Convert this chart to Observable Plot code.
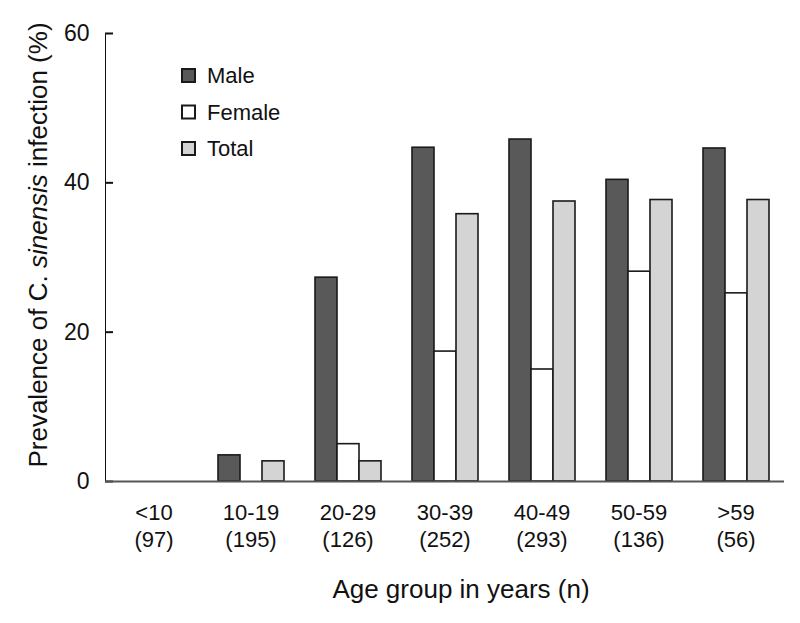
<!DOCTYPE html>
<html>
<head>
<meta charset="utf-8">
<script src="https://cdn.jsdelivr.net/npm/d3@7"></script>
<script src="https://cdn.jsdelivr.net/npm/@observablehq/plot@0.6"></script>
<style>
  body { margin: 0; background: #fff; }
  #chart { position: relative; width: 800px; height: 623px; }
</style>
</head>
<body>
<div id="chart"></div>
<script>
const ages = ["<10", "10-19", "20-29", "30-39", "40-49", "50-59", ">59"];
const sampleSizes = [97, 195, 126, 252, 293, 136, 56];
const series = ["Male", "Female", "Total"];
const male = [0, 3.5, 27.3, 44.7, 45.8, 40.4, 44.6];
const female = [0, 0, 5.0, 17.4, 15.0, 28.1, 25.2];
const total = [0, 2.7, 2.7, 35.8, 37.5, 37.7, 37.7];
const fills = ["#595959", "#ffffff", "#d4d4d4"];
const yTicks = [0, 20, 40, 60];

const valuesBySeries = {Male: male, Female: female, Total: total};
const rows = ages.flatMap((age, i) =>
  series.map(s => ({age, series: s, value: valuesBySeries[s][i]}))
);
const nByAge = new Map(ages.map((a, i) => [a, sampleSizes[i]]));

const FONT = "'Liberation Sans', Arial, Helvetica, sans-serif";

const chart = Plot.plot({
  width: 800,
  height: 623,
  marginLeft: 103,
  marginRight: 15,
  marginTop: 33,
  marginBottom: 142,
  style: {fontFamily: FONT, fontSize: "22px", color: "#111", background: "#fff"},
  facet: {data: rows, x: "age"},
  fx: {domain: ages, padding: 0, label: null},
  x: {domain: series, axis: null, paddingInner: 0, paddingOuter: 0.7},
  y: {
    domain: [0, 60],
    ticks: yTicks,
    tickSize: -8,
    tickPadding: 24,
    line: true,
    label: null
  },
  color: {domain: series, range: fills},
  marks: [
    Plot.axisFx({
      anchor: "bottom",
      tickSize: 0,
      tickPadding: 20,
      lineHeight: 1.2,
      fontSize: 22,
      label: null,
      tickFormat: d => `${d}\n(${nByAge.get(d)})`
    }),
    Plot.barY(rows, {x: "series", y: "value", fill: "series", stroke: "#1a1a1a", strokeWidth: 1.6}),
    Plot.ruleY([0], {stroke: "#555", strokeWidth: 2})
  ]
});

document.getElementById("chart").appendChild(chart);

const svg = d3.select(chart);
svg.selectAll('g[aria-label="y-axis tick"], g[aria-label="y-axis line"]').attr("stroke", "#555").attr("stroke-width", 2);
svg.selectAll('g[aria-label="y-axis tick label"]').attr("font-size", 23);

// Legend
const legend = svg.append("g")
  .attr("font-family", FONT).attr("font-size", 22).attr("fill", "#111")
  .attr("text-anchor", "start");
series.forEach((s, i) => {
  const g = legend.append("g").attr("transform", `translate(182,${69 + i * 36.5})`);
  g.append("rect").attr("width", 13).attr("height", 13)
    .attr("fill", fills[i]).attr("stroke", "#1a1a1a").attr("stroke-width", 2);
  g.append("text").attr("x", 25).attr("y", 6.5).attr("dy", "0.35em").text(s);
});

// Y axis title with italic species name
const yTitle = svg.append("text")
  .attr("font-family", FONT).attr("font-size", 26).attr("fill", "#111")
  .attr("text-anchor", "middle")
  .attr("transform", "translate(38,245) rotate(-90)")
  .attr("dy", "0.35em");
yTitle.append("tspan").text("Prevalence of C. ");
yTitle.append("tspan").attr("font-style", "italic").text("sinensis");
yTitle.append("tspan").text(" infection (%)");

// X axis title
svg.append("text")
  .attr("font-family", FONT).attr("font-size", 26).attr("fill", "#111")
  .attr("text-anchor", "middle")
  .attr("x", 461).attr("y", 589).attr("dy", "0.35em")
  .text("Age group in years (n)");
</script>
</body>
</html>
